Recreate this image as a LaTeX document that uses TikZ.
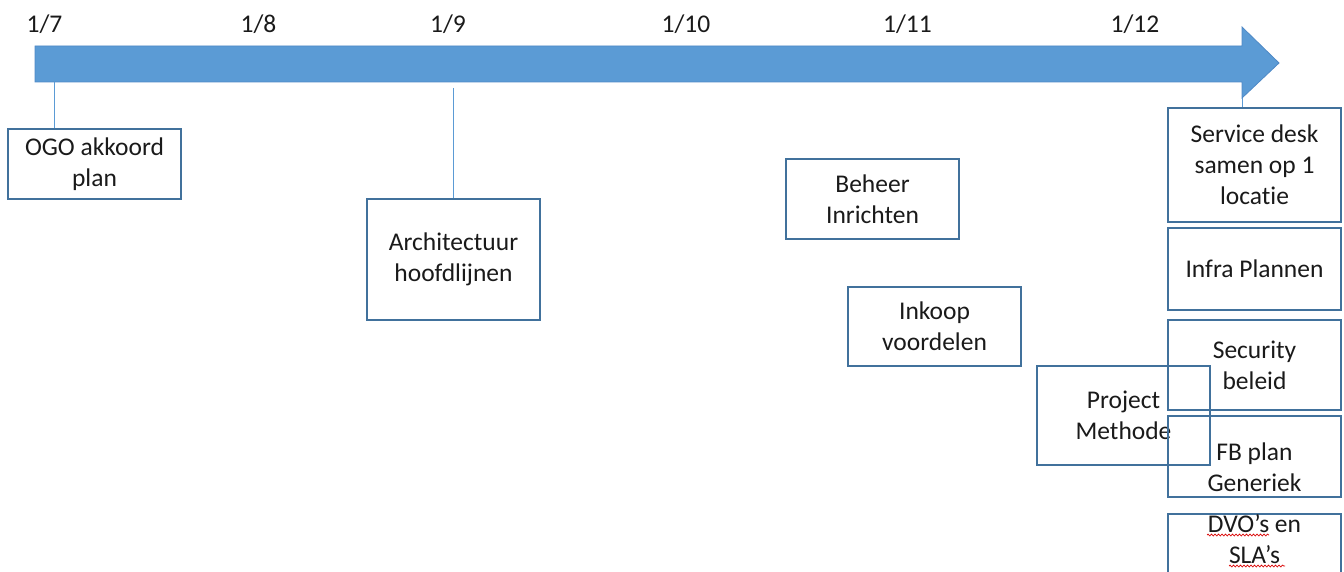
\documentclass[tikz,border=0pt]{standalone}
\usepackage{fontspec}
\setmainfont{Carlito}[Ligatures=NoCommon]
\usetikzlibrary{decorations.pathmorphing}
\definecolor{arrowblue}{HTML}{5B9BD5}
\definecolor{arrowedge}{HTML}{4F89C6}
\definecolor{boxedge}{HTML}{41719C}
\definecolor{txt}{HTML}{1A1A1A}
\tikzset{
  datelabel/.style={anchor=base, text=txt, inner sep=0pt},
  box/.style={draw=boxedge, line width=1.2pt, align=center, text=txt,
    inner sep=0pt, minimum width=173pt},
  boxtext/.style={align=center, text=txt, inner sep=0pt},
  tick/.style={draw=arrowblue, line width=1pt},
  spell/.style={draw=red!85!black, line width=0.7pt,
    decorate, decoration={snake, amplitude=0.9pt, segment length=3.5pt}}
}
\begin{document}
\begin{tikzpicture}[x=1pt, y=-1pt, font=\fontsize{25.5}{31}\selectfont]
\useasboundingbox (0,0) rectangle (1344,572);

% timeline arrow
\draw[fill=arrowblue, draw=arrowedge, line width=0.8pt]
  (35,46) -- (1242,46) -- (1242,27) -- (1279,63) -- (1242,98)
  -- (1242,82) -- (35,82) -- cycle;
\coordinate (t7) at (54,82);
\coordinate (t9) at (453,88);
\coordinate (t12) at (1242,98);

% month labels
\node[datelabel] (m7)  at (44.5,33) {1/7};
\node[datelabel] (m8)  at (258.5,33) {1/8};
\node[datelabel] (m9)  at (448,33) {1/9};
\node[datelabel] (m10) at (686,33) {1/10};
\node[datelabel] (m11) at (907.5,33) {1/11};
\node[datelabel] (m12) at (1135,33) {1/12};

% milestones
\node[box, minimum height=70pt] (ogo) at (94.5,164) {OGO akkoord\\plan};
\node[box, minimum height=121pt] (arch) at (453.5,259.5) {Architectuur\\hoofdlijnen};
\node[box, minimum height=80pt] (beheer) at (872.5,199) {Beheer\\Inrichten};
\node[box, minimum height=79pt] (inkoop) at (934.5,326.5) {Inkoop\\voordelen};
\node[box, minimum height=99pt] (project) at (1123.5,415.5) {Project\\Methode};

% stacked deliverables at 1/12
\node[box, minimum height=114pt] (service) at (1254.5,165) {Service desk\\samen op 1\\locatie};
\node[box, minimum height=82pt] (infra) at (1254.5,269) {Infra Plannen};
\node[box, minimum height=90pt] (security) at (1254.5,365) {Security\\beleid};
\node[box, minimum height=81pt] (fb) at (1254.5,456.5) {};
\node[boxtext] (fbtext) at (1254.5,467) {FB plan\\Generiek};
\node[box, minimum height=80pt] (dvo) at (1254.5,554) {};
\node[boxtext] (dvotext) at (1254.5,539) {DVO’s en\\SLA’s};

% spelling underlines
\draw[spell] (1207,535) -- (1269,535);
\draw[spell] (1229,566) -- (1285,566);

% connectors, dropped straight down from the timeline
\draw[tick] (t7) -- (t7 |- ogo.north);
\draw[tick] (t9) -- (t9 |- arch.north);
\draw[tick] (t12) -- (t12 |- service.north);
\end{tikzpicture}
\end{document}
